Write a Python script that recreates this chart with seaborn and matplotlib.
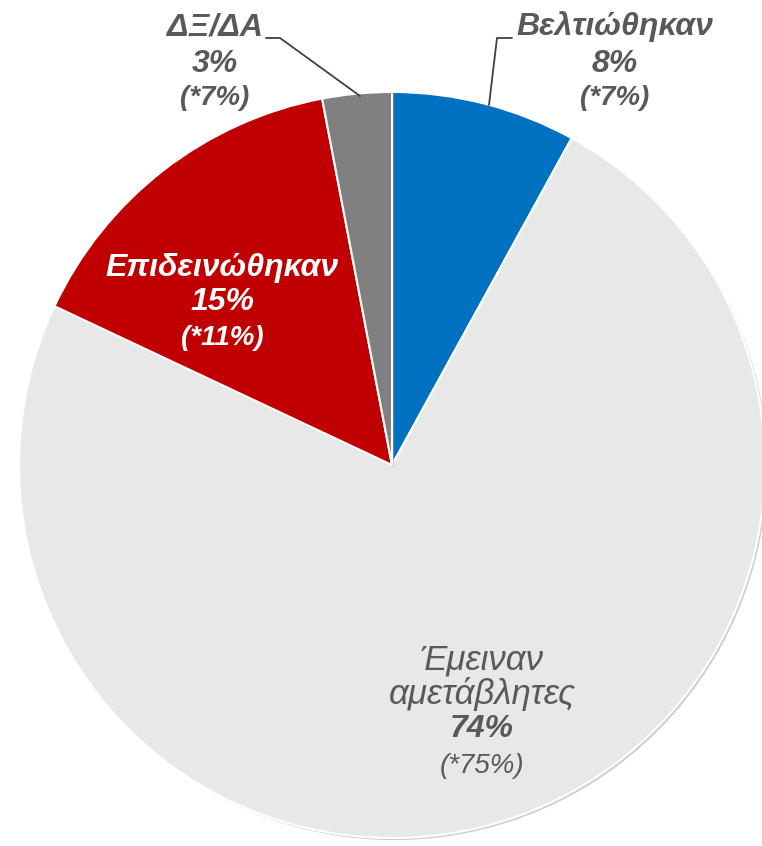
import matplotlib
matplotlib.use('Agg')
import matplotlib.pyplot as plt
import matplotlib.patheffects as pe
import seaborn as sns

# δεδομένα
categories = ['Βελτιώθηκαν', 'Έμειναν αμετάβλητες', 'Επιδεινώθηκαν', 'ΔΞ/ΔΑ']
values = [8, 74, 15, 3]
previous = [7, 75, 11, 7]
colors = ['#0070C0', '#E8E8E8', '#C00000', '#808080']

sns.set_theme(style='white')
plt.rcParams['font.family'] = ['Liberation Sans', 'DejaVu Sans']

W, H = 762, 846
cx, cy, R = 392, 465, 373

fig = plt.figure(figsize=(W / 100, H / 100), dpi=100)
ax = fig.add_axes([0, 0, 1, 1])

wedges, _ = ax.pie(values, colors=colors, startangle=90, counterclock=False,
                   wedgeprops={'edgecolor': 'white', 'linewidth': 1.5})
for w in wedges:
    w.set_path_effects([pe.withSimplePatchShadow(offset=(1.5, -1.5), shadow_rgbFace='#9a9a9a', alpha=0.5)])

ax.set_xlim(-cx / R, (W - cx) / R)
ax.set_ylim(-(H - cy) / R, cy / R)
ax.set_aspect('equal')
ax.axis('off')


def P(px, py):
    # pixel (από πάνω) -> συντεταγμένες άξονα
    return (px - cx) / R, (cy - py) / R


grey = '#595959'
big = 23
small = 20


def label(px, ys, name, val, prev, color, name_bold=True, name_size=big):
    lines = name.split('\n')
    for i, ln in enumerate(lines):
        ax.text(*P(px, ys[i]), ln, ha='center', va='center', color=color, fontsize=name_size,
                fontstyle='italic', fontweight='bold' if name_bold else 'normal')
    ax.text(*P(px, ys[len(lines)]), f'{val}%', ha='center', va='center', color=color,
            fontsize=big, fontstyle='italic', fontweight='bold')
    ax.text(*P(px, ys[len(lines) + 1]), f'(*{prev}%)', ha='center', va='center', color=color,
            fontsize=small, fontstyle='italic', fontweight='bold' if name_bold else 'normal')


label(615, [27, 64, 98], categories[0], values[0], previous[0], grey)
label(482, [660, 694, 729, 766], 'Έμειναν\nαμετάβλητες', values[1], previous[1], grey,
      name_bold=False, name_size=25)
label(222, [268, 302, 338], categories[2], values[2], previous[2], 'white')
label(215, [27, 64, 98], categories[3], values[3], previous[3], grey)

# γραμμές οδηγοί
for pts in [[(489, 105), (497, 38), (512, 38)], [(360, 96), (280, 38), (266, 38)]]:
    xs, ys = zip(*[P(*p) for p in pts])
    ax.plot(xs, ys, color='#404040', lw=1.3)

fig.savefig('out.png', dpi=100)
